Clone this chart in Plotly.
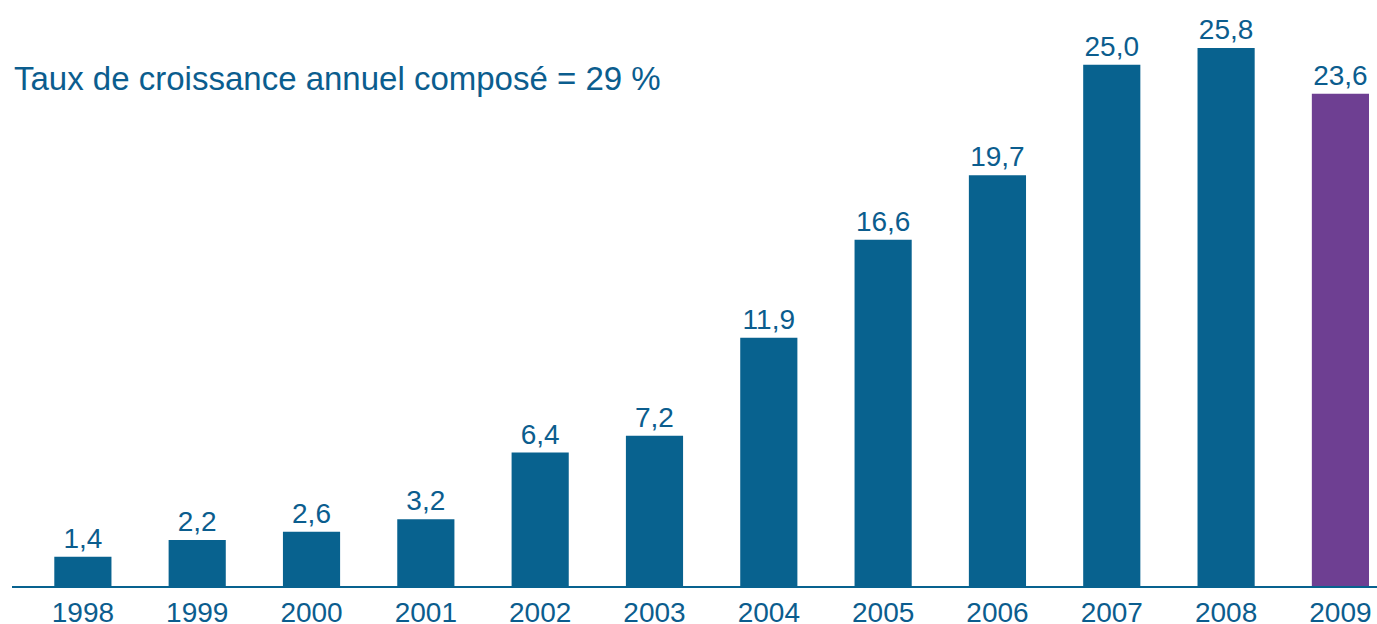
import plotly.graph_objects as go

years = ["1998", "1999", "2000", "2001", "2002", "2003", "2004", "2005", "2006", "2007", "2008", "2009"]
values = [1.4, 2.2, 2.6, 3.2, 6.4, 7.2, 11.9, 16.6, 19.7, 25.0, 25.8, 23.6]
highlight_year = "2009"
title_text = "Taux de croissance annuel composé = 29 %"

BLUE = "#08628f"
PURPLE = "#6e3f92"
TEXT = "#0b5d8e"
FONT = "Liberation Sans, Arial, Helvetica, sans-serif"

colors = [PURPLE if y == highlight_year else BLUE for y in years]

fig = go.Figure(
    go.Bar(
        x=years,
        y=values,
        marker=dict(color=colors, line=dict(width=0)),
        width=0.5,
        texttemplate="%{y:.1f}",
        textposition="outside",
        textfont=dict(family=FONT, size=28, color=TEXT),
        cliponaxis=False,
        hoverinfo="skip",
    )
)

fig.update_layout(
    width=1377,
    height=624,
    margin=dict(l=12, r=0, t=20, b=38, autoexpand=False),
    paper_bgcolor="white",
    plot_bgcolor="white",
    separators=", ",
    showlegend=False,
    font=dict(family=FONT, color=TEXT),
    annotations=[
        dict(
            text=title_text,
            xref="paper", yref="paper",
            x=0, y=0.896,
            xanchor="left", yanchor="middle",
            showarrow=False,
            font=dict(family=FONT, size=33, color=TEXT),
        )
    ],
)

fig.update_xaxes(
    type="category",
    range=[-0.62, 11.32],
    automargin=False,
    showline=True,
    linecolor=BLUE,
    linewidth=2,
    showgrid=False,
    ticks="",
    ticklabelstandoff=0,
    tickfont=dict(family=FONT, size=28, color=TEXT),
    fixedrange=True,
)
fig.update_yaxes(
    range=[0, 27.14],
    visible=False,
    showgrid=False,
    zeroline=False,
    fixedrange=True,
)

fig.write_html(
    "out.html",
    config={"displayModeBar": False},
    post_script="document.body.style.margin='0';document.body.style.overflow='hidden';",
)
